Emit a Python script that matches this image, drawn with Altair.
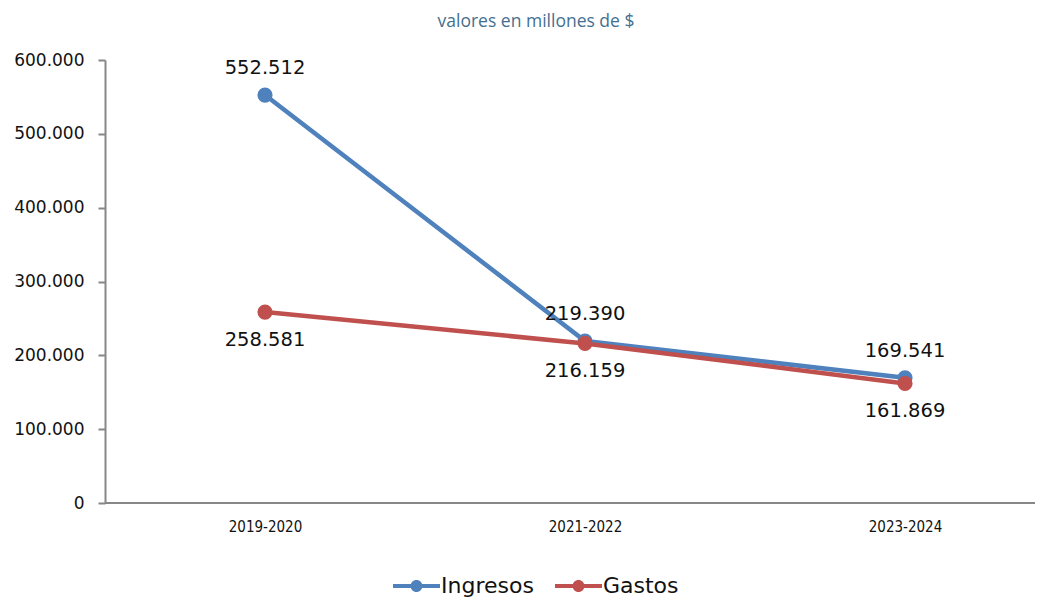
import altair as alt
import pandas as pd

periodos = ["2019-2020", "2021-2022", "2023-2024"]
ingresos = [552512, 219390, 169541]
gastos = [258581, 216159, 161869]
series = ["Ingresos", "Gastos"]
colores = ["#4F81BD", "#C0504D"]
y_ticks = [0, 100000, 200000, 300000, 400000, 500000, 600000]

rows = []
for s, vals in zip(series, [ingresos, gastos]):
    for p, v in zip(periodos, vals):
        rows.append({"periodo": p, "serie": s, "valor": v})
df = pd.DataFrame(rows)

W, H = 930, 443
AXIS_GRAY = "#878787"
fmt = "replace(format(datum.valor, ','), ',', '.')"

x = alt.X(
    "periodo:N",
    sort=periodos,
    scale=alt.Scale(type="point", range=[160, 800], padding=0),
    axis=alt.Axis(
        title=None, domain=False, ticks=False, grid=False, labelAngle=0,
        labelFont="DejaVu Sans Condensed, Liberation Sans", labelFontSize=15,
        labelColor="#111111", labelPadding=16,
    ),
)
y = alt.Y(
    "valor:Q",
    scale=alt.Scale(domain=[0, 600000], nice=False, zero=True),
    axis=alt.Axis(
        title=None, values=y_ticks, grid=False,
        labelExpr="replace(format(datum.value, ','), ',', '.')",
        labelFont="DejaVu Sans", labelFontSize=17, labelColor="#111111",
        labelPadding=14, tickSize=7, tickColor=AXIS_GRAY, tickWidth=2,
        domainColor=AXIS_GRAY, domainWidth=2,
    ),
)

legend_path = "M-2.94,-0.25H2.94V0.25H-2.94Z M0.75,0A0.75,0.75,0,1,1,-0.75,0A0.75,0.75,0,1,1,0.75,0Z"
legend = alt.Legend(
    orient="none", legendX=300.5, legendY=515, direction="horizontal",
    title=None, symbolType=legend_path, symbolSize=256, symbolStrokeWidth=0,
    symbolOpacity=1,
    labelFont="DejaVu Sans", labelFontSize=22, labelColor="#111111",
    labelOffset=13.5, columnPadding=20, padding=0,
)
color = alt.Color("serie:N", scale=alt.Scale(domain=series, range=colores), legend=legend)

base = alt.Chart(df)

lines = base.mark_line(strokeWidth=4.5).encode(
    x=x, y=y, color=color, detail="serie:N",
)

points = base.mark_point(filled=True, size=230, opacity=1).encode(
    x=x, y=y, color=color,
)

text_ing = base.transform_filter(alt.datum.serie == "Ingresos").transform_calculate(
    label=fmt
).mark_text(dy=-27, font="DejaVu Sans", fontSize=19.5, color="#111111").encode(
    x=x, y=y, text="label:N"
)
text_gas = base.transform_filter(alt.datum.serie == "Gastos").transform_calculate(
    label=fmt
).mark_text(dy=28, font="DejaVu Sans", fontSize=19.5, color="#111111").encode(
    x=x, y=y, text="label:N"
)

baseline = alt.Chart(pd.DataFrame({"v": [0]})).mark_rule(
    color=AXIS_GRAY, strokeWidth=2
).encode(y=alt.Y("v:Q"), x=alt.value(0), x2=alt.value(W))

chart = alt.layer(baseline, lines, points, text_ing, text_gas).properties(
    width=W, height=H,
    title=alt.Title(
        "valores en millones de $", font="Open Sans", fontSize=17.5,
        fontWeight="normal", color="#44708f", anchor="middle", dx=-34, offset=20.5,
    ),
    padding={"left": 5, "top": 5, "right": 0, "bottom": 0},
).configure_view(stroke=None)

chart.save("out.html", embed_options={"renderer": "svg", "actions": False})
